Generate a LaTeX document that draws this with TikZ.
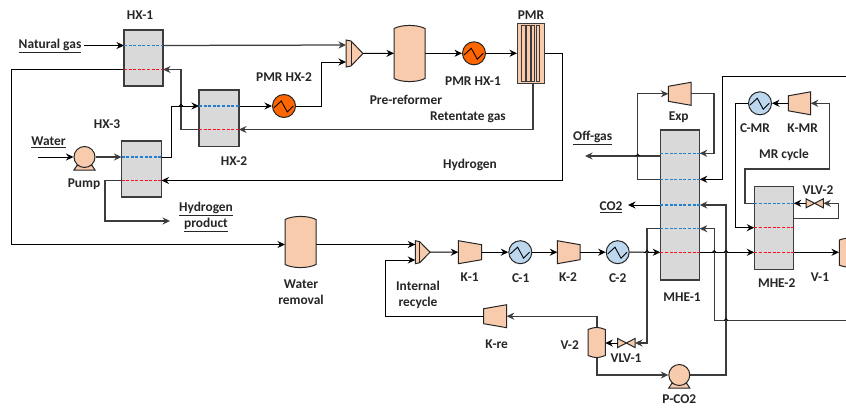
\documentclass[tikz,border=0pt]{standalone}
\usepackage{fontspec}
\setmainfont{Carlito}
\usetikzlibrary{arrows.meta}
\definecolor{peach}{HTML}{F8CBAD}
\definecolor{hxgray}{HTML}{D9D9D9}
\definecolor{edgeg}{HTML}{3C3C3C}
\definecolor{coolblue}{HTML}{BDD7EE}
\definecolor{heatorange}{HTML}{FF6600}
\definecolor{dashblue}{HTML}{2380D0}
\definecolor{dashred}{HTML}{FF1020}
\tikzset{
  x=1pt,y=-1pt,
  pipe/.style={draw=black,line width=1pt},
  gpipe/.style={draw=edgeg,line width=1.25pt},
  arr/.style={-{Stealth[length=7.5pt,width=7pt]}},
  unitfill/.style={draw=black!85,fill=peach,line width=1pt},
  bdash/.style={draw=dashblue,line width=1.2pt,dash pattern=on 3pt off 1.6pt},
  rdash/.style={draw=dashred,line width=1.2pt,dash pattern=on 3pt off 1.6pt},
  lbl/.style={font=\fontsize{13.4}{16}\selectfont\bfseries,text=black!85,inner sep=0pt,align=center},
}
\newcommand{\mybox}[5]{\path[draw=edgeg,fill=hxgray,line width=1.25pt] (#2,#4) rectangle (#3,#5);
  \coordinate (#1-nw) at (#2,#4); \coordinate (#1-se) at (#3,#5);}
\newcommand{\myhx}[4]{\node[circle,draw=black!85,fill=#4,line width=1pt,minimum size=23pt,inner sep=0pt] (#1) at (#2,#3) {};
  \begin{scope}[shift={(#2,#3)}]\draw[line width=0.9pt] (-10,1.7)--(-2.7,-5)--(3.3,6)--(9.3,0);\end{scope}}
\newcommand{\compL}[4]{\path[unitfill] (#2,#4-11.5)--(#3,#4-7.5)--(#3,#4+7.5)--(#2,#4+11.5)--cycle;
  \coordinate (#1-w) at (#2,#4); \coordinate (#1-e) at (#3,#4);}
\newcommand{\compR}[4]{\path[unitfill] (#2,#4-7.5)--(#3,#4-11.5)--(#3,#4+11.5)--(#2,#4+7.5)--cycle;
  \coordinate (#1-w) at (#2,#4); \coordinate (#1-e) at (#3,#4);}
\newcommand{\vessel}[6]{\path[unitfill] (#2,#4+#6) .. controls (#2+8,#4-0.6) and (#3-8,#4-0.6) .. (#3,#4+#6) -- (#3,#5-#6) .. controls (#3-8,#5+0.6) and (#2+8,#5+0.6) .. (#2,#5-#6) -- cycle;}
\newcommand{\mixer}[6]{\path[unitfill] (#2,#4)--(#3,#4+1)--(#5,#4/2+#6/2)--(#3,#6-1)--(#2,#6)--cycle;
  \draw[line width=1pt,draw=black!85] (#3,#4+1)--(#3,#6-1);
  \coordinate (#1-e) at (#5,#4/2+#6/2);}
\newcommand{\valve}[4]{\path[unitfill] (#2,#4-4.5)--(#3,#4+4.5)--(#3,#4-4.5)--(#2,#4+4.5)--cycle;
  \coordinate (#1-w) at (#2,#4); \coordinate (#1-e) at (#3,#4);}
\newcommand{\pumpu}[3]{\path[unitfill] (#2-7.5,#3+8.5)--(#2+7.5,#3+8.5)--(#2+10.5,#3+13)--(#2-10.5,#3+13)--cycle;
  \node[circle,draw=black!85,fill=peach,line width=1pt,minimum size=21pt,inner sep=0pt] (#1) at (#2,#3) {};}
\newcommand{\jumpat}[2]{\draw[line width=0.9pt] (#1-1.8,#2) .. controls (#1-1.2,#2-2.4) and (#1+1.2,#2-2.4) .. (#1+1.8,#2);}
\begin{document}
\begin{tikzpicture}
\clip (0,0) rectangle (846,407);
\fill[white] (0,0) rectangle (846,407);

\coordinate (ngIn) at (84,45.5); \coordinate (waterIn) at (38,157);
\coordinate (hprod) at (170,221); \coordinate (offg) at (585,156);
\coordinate (co2out) at (628,205); \coordinate (v1in) at (839,252.3);
\coordinate (rightA) at (846,76); \coordinate (rightB) at (846,320.5);

\coordinate (hx1Bw) at (124,45.5); \coordinate (hx1Be) at (163,45.5);
\coordinate (hx1Rw) at (124,69.5); \coordinate (hx1Re) at (163,69.5);
\coordinate (hx2Bw) at (199,106); \coordinate (hx2Be) at (239,106);
\coordinate (hx2Rw) at (199,129.5); \coordinate (hx2Re) at (239,129.5);
\coordinate (hx3Bw) at (121.5,157); \coordinate (hx3Be) at (161.5,157);
\coordinate (hx3Rw) at (121.5,180.5); \coordinate (hx3Re) at (161.5,180.5);
\coordinate (mix1a) at (346,45); \coordinate (mix1b) at (346,62);
\coordinate (mix2a) at (415.3,244.5); \coordinate (mix2b) at (415.3,260);
\coordinate (prW) at (394,53.3); \coordinate (prE) at (425,53.3);
\coordinate (wrW) at (285,244.5); \coordinate (wrE) at (316,244.5);
\coordinate (pmrW) at (517,53.3); \coordinate (pmrE) at (544,53.3); \coordinate (pmrS) at (533,83);
\coordinate (v2W) at (605.3,343); \coordinate (v2N) at (597,327.3); \coordinate (v2S) at (597,357.7);
\coordinate (m1a) at (699.7,153.3); \coordinate (m1b) at (699.7,179.3); \coordinate (m1c) at (699.7,205); \coordinate (m1d) at (699.7,228.7);
\coordinate (m1aW) at (660.3,156); \coordinate (m1bW) at (660.3,179.3); \coordinate (m1cW) at (660.3,205); \coordinate (m1dW) at (660.3,228.7);
\coordinate (m1eW) at (660.3,252.3); \coordinate (m1eE) at (699.7,252.3);
\coordinate (m2aW) at (754.3,203.3); \coordinate (m2aE) at (793.7,203.3);
\coordinate (m2bW) at (754.3,227.7); \coordinate (m2bE) at (793.7,218.3);
\coordinate (m2cW) at (754.3,252.3); \coordinate (m2cE) at (793.7,252.3);

\compL{K1}{458.3}{481.7}{252.2}
\compL{K2}{557.3}{580}{252.2}
\compR{Kre}{483.7}{506.7}{316.2}
\compR{Exp}{668.3}{691}{93.8}
\compR{KMR}{788.3}{810.7}{103.3}
\valve{VLVa}{617.7}{635}{343}
\valve{VLVb}{806}{823.3}{203.3}
\myhx{PMRHXb}{284}{106}{heatorange}
\myhx{PMRHXa}{474}{53.3}{heatorange}
\myhx{Ca}{520.3}{252.2}{coolblue}
\myhx{Cb}{617.7}{252.2}{coolblue}
\myhx{CMR}{760}{103.3}{coolblue}
\pumpu{Pump}{84.5}{157}
\pumpu{PCO}{679.3}{375}
\mixer{Mxa}{346}{351}{40}{363}{67}
\mixer{Mxb}{415.3}{419.7}{240.7}{430}{263.7}

\draw[pipe,arr] (ngIn) -- (hx1Bw);
\draw[gpipe,arr] (hx1Be) -- (mix1a);
\draw[pipe,arr] (hx1Rw) -- (11,69.5) -- (11,244.5) -- (wrW);
\draw[pipe,arr] (wrE) -- (mix2a);
\draw[gpipe,arr] (hx2Rw) -- (181,129.5) -- (181,69.5) -- (hx1Re);
\draw[pipe,arr] (hx3Be) -- (171,157) -- (171,106) -- (hx2Bw);
\draw[pipe,arr] (hx2Be) -- (PMRHXb.west);
\draw[pipe,arr] (PMRHXb.east) -- (321,106) -- (321,62) -- (mix1b);
\draw[pipe,arr] (Mxa-e) -- (prW);
\draw[pipe,arr] (prE) -- (PMRHXa.west);
\draw[pipe,arr] (PMRHXa.east) -- (pmrW);
\draw[pipe,arr] (pmrE) -- (562.5,53.3) -- (562.5,180.5) -- (hx3Re);
\draw[gpipe,arr] (pmrS) -- (533,129.5) -- (hx2Re);
\draw[pipe,arr] (waterIn) -- (Pump.west);
\draw[gpipe,arr] (Pump.east) -- (hx3Bw);
\draw[gpipe,arr] (hx3Rw) -- (105,180.5) -- (105,221) -- (hprod);
\jumpat{181}{106}

\draw[pipe,arr] (Mxb-e) -- (K1-w);
\draw[pipe,arr] (K1-e) -- (Ca.west);
\draw[pipe,arr] (Ca.east) -- (K2-w);
\draw[pipe,arr] (K2-e) -- (Cb.west);
\draw[pipe,arr] (Cb.east) -- (m1eW);
\draw[pipe,arr] (Kre-w) -- (385.5,316.2) -- (385.5,260) -- (mix2b);
\draw[gpipe,arr] (v2N) -- (597,316.2) -- (Kre-e);
\draw[pipe,arr] (VLVa-w) -- (v2W);
\draw[gpipe,arr] (v2S) -- (597,375) -- (PCO.west);
\draw[gpipe,arr] (m1dW) -- (647,228.7) -- (647,343) -- (VLVa-e);
\jumpat{647}{252.3}

\draw[pipe,arr] (m1eE) -- (m2cW);
\draw[pipe,arr] (m2cE) -- (v1in);
\draw[gpipe,arr] (m1bW) -- (637.7,179.3) -- (637.7,93.8) -- (Exp-w);
\draw[gpipe,arr] (Exp-e) -- (714,93.8) -- (714,153.3) -- (m1a);
\draw[gpipe,arr] (m1aW) -- (offg);
\jumpat{637.7}{156}
\draw[pipe,arr] (m1cW) -- (co2out);
\draw[pipe,arr] (rightA) -- (722.3,76) -- (722.3,179.3) -- (m1b);
\draw[gpipe,arr] (PCO.east) -- (726,375) -- (726,205) -- (m1c);
\draw[gpipe,arr] (rightB) -- (714.3,320.5) -- (714.3,228.7) -- (m1d);
\jumpat{714.3}{252.3}
\jumpat{726}{252.3}
\jumpat{726}{320.5}

\draw[gpipe,arr] (m2aW) -- (745,203.3) -- (745,169) -- (829.3,169) -- (829.3,103.3) -- (KMR-e);
\draw[pipe,arr] (KMR-w) -- (CMR.east);
\draw[pipe,arr] (CMR.west) -- (735.3,103.3) -- (735.3,227.7) -- (m2bW);
\draw[pipe,arr] (VLVb-w) -- (m2aE);
\draw[gpipe,arr] (m2bE) -- (838.7,218.3) -- (838.7,203.3) -- (VLVb-e);

\vessel{PR}{394}{425}{25}{82}{3.5}
\vessel{WR}{285}{316}{216}{268}{3.5}
\vessel{Vb}{588}{605.3}{327.3}{357.7}{2.2}
\vessel{Va}{839.3}{870}{237.5}{267.7}{2.5}

\path[draw=edgeg,fill=peach,line width=1pt] (517,23) rectangle (544,83);
\foreach \tx in {521.7,526.5,531.3,536}{\draw[draw=edgeg,line width=0.7pt] (\tx,25.3) rectangle (\tx+3.4,81.7);}

\mybox{HXa}{124}{163}{30}{86}
\mybox{HXb}{199}{239}{90}{146.5}
\mybox{HXc}{121.5}{161.5}{141}{197}
\mybox{MHEa}{660.3}{699.7}{130}{280}
\mybox{MHEb}{754.3}{793.7}{186.3}{269.3}
\draw[bdash] (hx1Bw) -- (hx1Be); \draw[rdash] (hx1Rw) -- (hx1Re);
\draw[bdash] (hx2Bw) -- (hx2Be); \draw[rdash] (hx2Rw) -- (hx2Re);
\draw[bdash] (hx3Bw) -- (hx3Be); \draw[rdash] (hx3Rw) -- (hx3Re);
\draw[bdash] (660.3,153.3) -- (m1a); \draw[bdash] (660.3,179.3) -- (m1b);
\draw[bdash] (m1cW) -- (m1c); \draw[bdash] (m1dW) -- (m1d); \draw[rdash] (m1eW) -- (m1eE);
\draw[bdash] (m2aW) -- (m2aE); \draw[rdash] (m2bW) -- (793.7,227.7); \draw[rdash] (m2cW) -- (m2cE);

\node[lbl] (tNG) at (50,46) {\underline{Natural gas}};
\node[lbl] (tHXa) at (140,15) {HX-1};
\node[lbl] (tHXb) at (234,161) {HX-2};
\node[lbl] (tHXc) at (107,124) {HX-3};
\node[lbl] (tW) at (48.5,142) {\underline{Water}};
\node[lbl] (tP) at (84,184) {Pump};
\node[lbl] (tHP) at (206,217) {\underline{Hydrogen}\\[0.4pt]\underline{product}};
\node[lbl] (tPHb) at (284,77) {PMR HX-2};
\node[lbl] (tPR) at (406,100) {Pre-reformer};
\node[lbl] (tPHa) at (473,81) {PMR HX-1};
\node[lbl] (tPMR) at (531,15) {PMR};
\node[lbl] (tRG) at (468,117) {Retentate gas};
\node[lbl] (tH) at (470,165) {Hydrogen};
\node[lbl] (tWR) at (301,292) {Water\\removal};
\node[lbl] (tIR) at (418,295) {Internal\\recycle};
\node[lbl] (tKa) at (469.7,277) {K-1};
\node[lbl] (tCa) at (520.7,278) {C-1};
\node[lbl] (tKb) at (568,277) {K-2};
\node[lbl] (tCb) at (617.7,278) {C-2};
\node[lbl] (tKre) at (496.7,344) {K-re};
\node[lbl] (tVb) at (569.7,345) {V-2};
\node[lbl] (tVLa) at (626,358) {VLV-1};
\node[lbl] (tPC) at (679.3,399) {P-CO2};
\node[lbl] (tMa) at (682,297) {MHE-1};
\node[lbl] (tMb) at (776.7,283) {MHE-2};
\node[lbl] (tVa) at (820,277) {V-1};
\node[lbl] (tExp) at (678.7,117) {Exp};
\node[lbl] (tOG) at (592.7,138) {\underline{Off-gas}};
\node[lbl] (tCO) at (611,207) {\underline{CO2}};
\node[lbl] (tCM) at (755,128) {C-MR};
\node[lbl] (tKM) at (802.7,128) {K-MR};
\node[lbl] (tMR) at (784,155) {MR cycle};
\node[lbl] (tVLb) at (818,190) {VLV-2};
\end{tikzpicture}
\end{document}
